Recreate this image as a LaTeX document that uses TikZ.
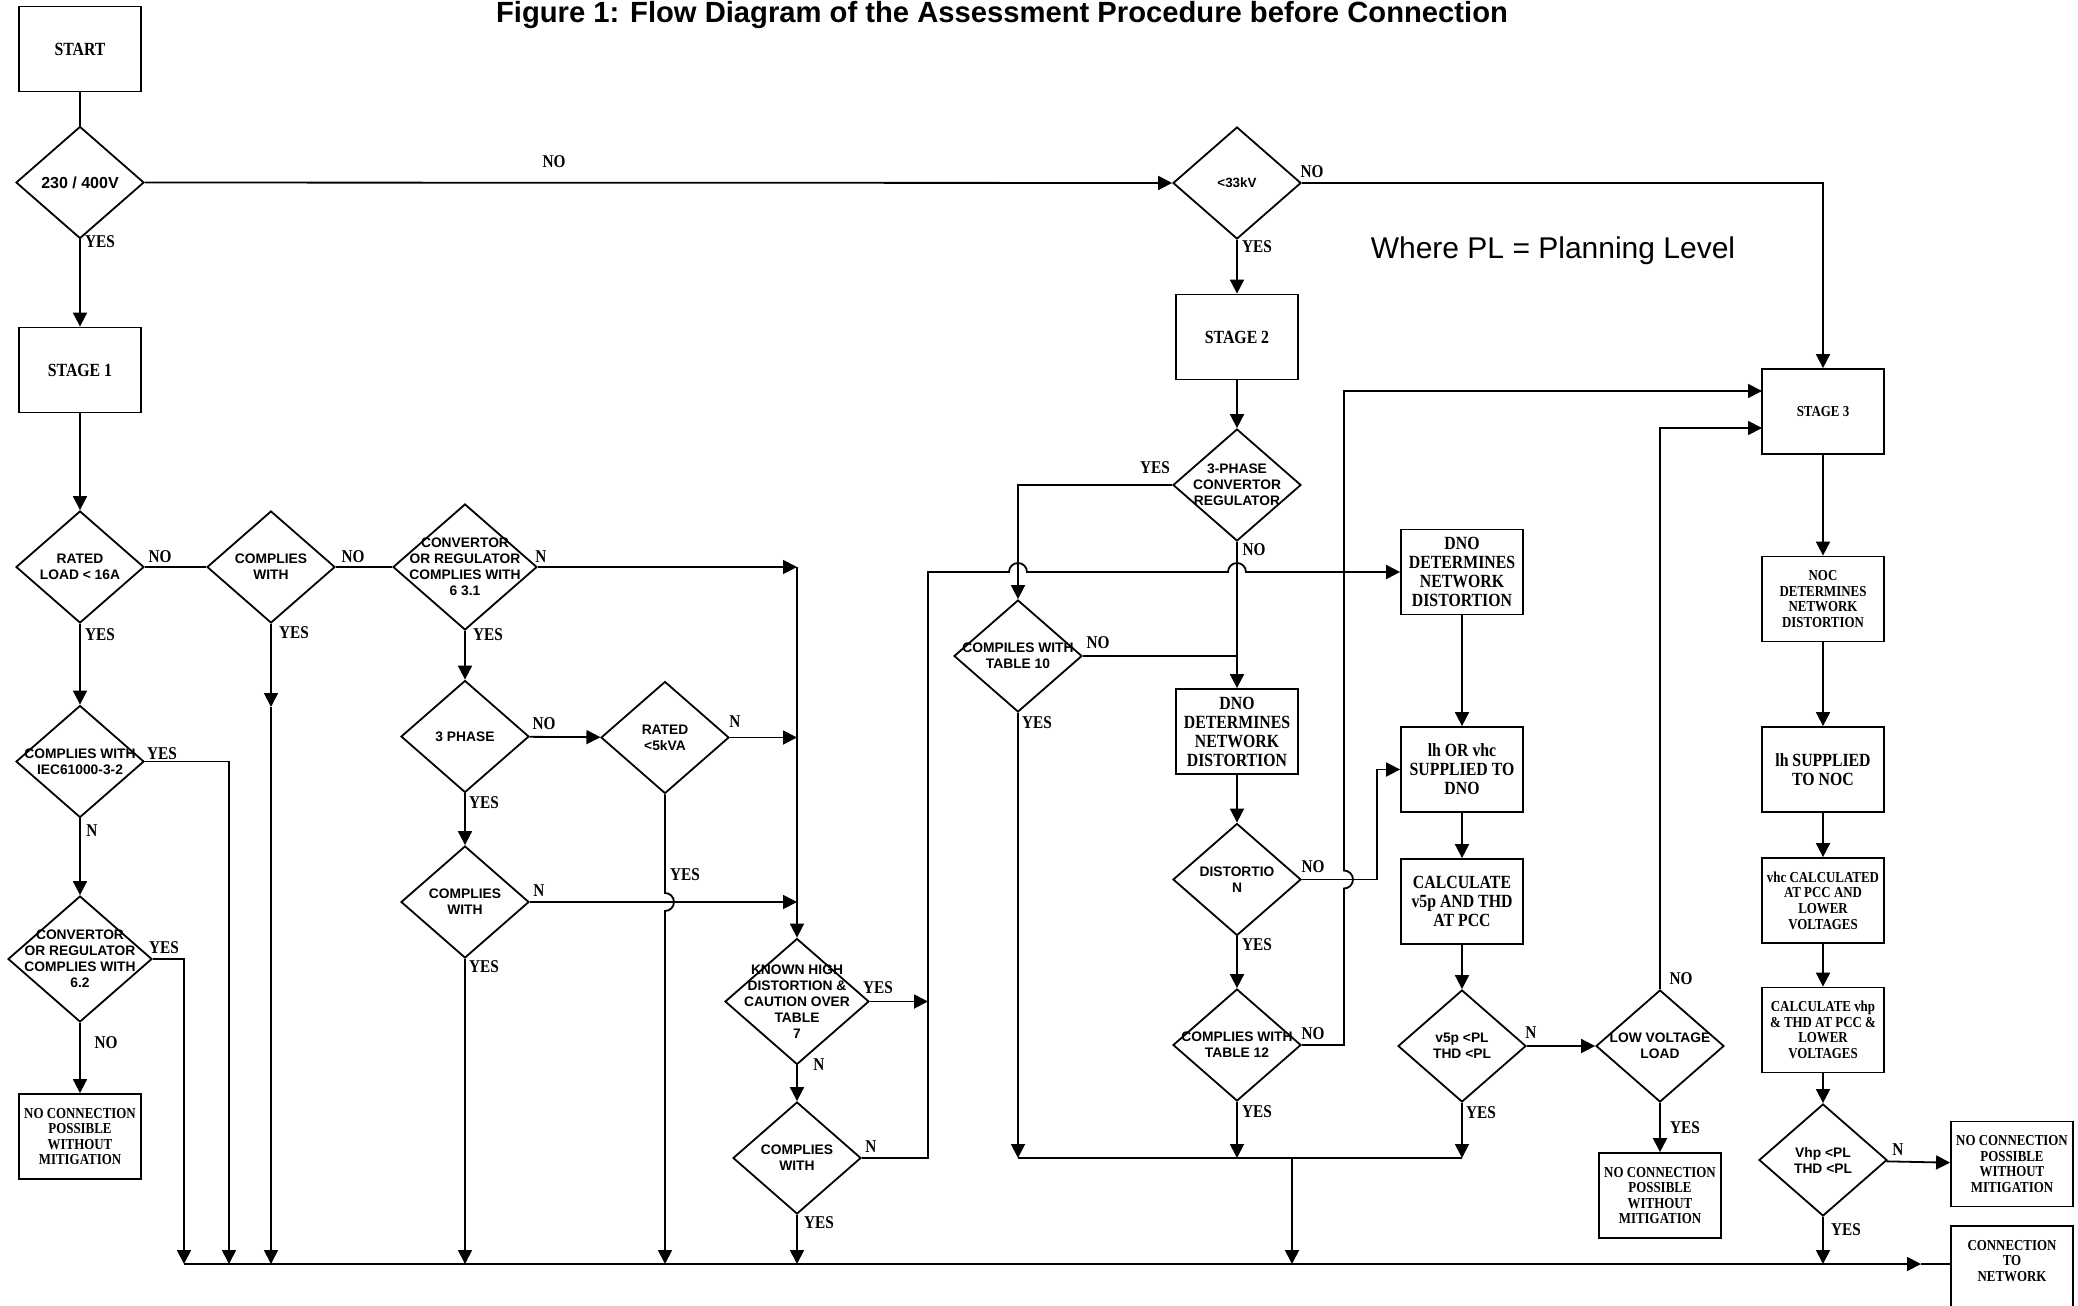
\documentclass[tikz,border=0pt]{standalone}
\usepackage{fontspec}
\setmainfont{Liberation Serif}
\newfontfamily\boxfont[FakeStretch=0.85]{Liberation Serif}
\newfontfamily\diafont{Liberation Sans}
\usetikzlibrary{shapes.geometric, arrows.meta}

\tikzset{
  box/.style={draw, rectangle, minimum width=61pt, minimum height=42.5pt, inner sep=1pt, align=center,
    font=\boxfont\bfseries\fontsize{9.3}{9.5}\selectfont},
  small box/.style={box, font=\boxfont\bfseries\fontsize{7.6}{7.8}\selectfont},
  dtext/.style={align=center, inner sep=0pt, font=\diafont\bfseries\fontsize{6.9}{8}\selectfont},
  decision/.style={draw, diamond, minimum width=64pt, minimum height=56pt, inner sep=0pt,
    label={[dtext]center:{#1}}},
  big decision/.style={decision={#1}, minimum width=72pt, minimum height=63pt},
  answer/.style={inner sep=0pt, font=\boxfont\bfseries\fontsize{9}{9}\selectfont},
  arr/.style={-{Triangle[length=7pt, width=7pt]}},
}

\begin{document}
\begin{tikzpicture}[x=0.5pt, y=-0.5pt, line width=0.9pt]
    \useasboundingbox (0,0) rectangle (2078,1306);

    \node [anchor=base, font=\diafont\bfseries\fontsize{14.6}{17}\selectfont] (title) at (1002,22)
        {Figure 1: Flow Diagram of the Assessment Procedure before Connection};
    \node [anchor=base, font=\diafont\fontsize{15}{18}\selectfont] (plnote) at (1553,258) {Where PL = Planning Level};

    \node [box] (start) at (80,49) {START};
    \node [decision={\fontsize{8}{9}\selectfont 230 / 400V}] (d230) at (80,182.5) {};
    \node [box] (stage1) at (80,370) {STAGE 1};
    \node [decision={\fontsize{6.7}{8}\selectfont <33kV}] (d33) at (1237,183) {};
    \node [box] (stage2) at (1237,337) {STAGE 2};
    \node [small box] (stage3) at (1823,411.5) {STAGE 3};

    \node [decision={RATED\\LOAD < 16A}] (rated16) at (80,567) {};
    \node [decision={COMPLIES\\WITH}] (comp1) at (271,567) {};
    \node [big decision={CONVERTOR\\OR REGULATOR\\COMPLIES WITH\\6 3.1}] (conv631) at (465,567) {};
    \node [decision={COMPLIES WITH\\IEC61000-3-2}] (iec) at (80,761.5) {};
    \node [big decision={CONVERTOR\\OR REGULATOR\\COMPLIES WITH\\6.2}] (conv62) at (80,959) {};
    \node [small box] (nocon1) at (80,1136.5) {NO CONNECTION\\POSSIBLE\\WITHOUT\\MITIGATION};
    \node [decision={3 PHASE}] (ph3) at (465,736.5) {};
    \node [decision={RATED\\<5kVA}] (rated5) at (665,737.5) {};
    \node [decision={COMPLIES\\WITH}] (comp2) at (465,902) {};
    \node [big decision={KNOWN HIGH\\DISTORTION \&\\CAUTION OVER\\TABLE\\7}] (known) at (797,1001.5) {};
    \node [decision={COMPLIES\\WITH}] (comp3) at (797,1158) {};

    \node [decision={3-PHASE\\CONVERTOR\\REGULATOR}] (ph3conv) at (1237,485) {};
    \node [decision={COMPILES WITH\\TABLE 10}] (tab10) at (1018,656) {};
    \node [box] (dno2) at (1237,731.5) {DNO\\DETERMINES\\NETWORK\\DISTORTION};
    \node [decision={DISTORTIO\\N}] (dist) at (1237,879.5) {};
    \node [decision={COMPLIES WITH\\TABLE 12}] (tab12) at (1237,1045) {};

    \node [box] (dno1) at (1462,572) {DNO\\DETERMINES\\NETWORK\\DISTORTION};
    \node [box] (lhvhc) at (1462,769.5) {lh OR vhc\\SUPPLIED TO\\DNO};
    \node [box] (calc) at (1462,901.5) {CALCULATE\\v5p AND THD\\AT PCC};
    \node [decision={v5p <PL\\THD <PL}] (v5p) at (1462,1046) {};
    \node [decision={LOW VOLTAGE\\LOAD}] (lvl) at (1660,1046) {};
    \node [small box] (nocon2) at (1660,1195.5) {NO CONNECTION\\POSSIBLE\\WITHOUT\\MITIGATION};

    \node [small box] (noc) at (1823,599) {NOC\\DETERMINES\\NETWORK\\DISTORTION};
    \node [box] (lhnoc) at (1823,769.5) {lh SUPPLIED\\TO NOC};
    \node [small box] (vhc) at (1823,900.5) {vhc CALCULATED\\AT PCC AND\\LOWER\\VOLTAGES};
    \node [small box] (calcvhp) at (1823,1030) {CALCULATE vhp\\\& THD AT PCC \&\\LOWER\\VOLTAGES};
    \node [decision={Vhp <PL\\THD <PL}] (vhp) at (1823,1160) {};
    \node [small box] (nocon3) at (2012,1164) {NO CONNECTION\\POSSIBLE\\WITHOUT\\MITIGATION};
    \node [small box, anchor=north] (conn) at (2012,1225) {CONNECTION\\TO\\NETWORK\\\mbox{}};

    \coordinate (cA) at (797,567);
    \coordinate (cB) at (928,572);
    \coordinate (mid1) at (271,707);
    \coordinate (s3a) at (1762,391);
    \coordinate (s3b) at (1762,428);
    \coordinate (bus1) at (184,1264);
    \coordinate (bus2) at (229,1264);
    \coordinate (bus3) at (271,1264);
    \coordinate (bus4) at (465,1264);
    \coordinate (bus5) at (665,1264);
    \coordinate (bus6) at (797,1264);
    \coordinate (bus7) at (1292,1264);
    \coordinate (bus8) at (1823,1264);
    \coordinate (busE) at (1921,1264);
    \coordinate (sub1) at (1018,1158);
    \coordinate (sub2) at (1237,1158);
    \coordinate (sub3) at (1462,1158);
    \coordinate (sub4) at (1292,1158);

    \draw (start) -- (d230);
    \draw [arr] (d230) -- (d33);
    \draw [arr] (d230) -- (stage1);
    \draw [arr] (d33) -- (stage2);
    \draw [arr] (d33.east) -| (stage3.north);

    \draw [arr] (stage1) -- (rated16);
    \draw (rated16) -- (comp1);
    \draw (comp1) -- (conv631);
    \draw [arr] (conv631) -- (cA);
    \draw [arr] (cA) -- (known);
    \draw [arr] (rated16) -- (iec);
    \draw [arr] (iec) -- (conv62);
    \draw [arr] (conv62) -- (nocon1);
    \draw [arr] (iec.east) -| (bus2);
    \draw [arr] (conv62.east) -| (bus1);
    \draw [arr] (comp1) -- (mid1);
    \draw [arr] (mid1) -- (bus3);

    \draw [arr] (conv631) -- (ph3);
    \draw [arr] (ph3) -- (rated5);
    \draw [arr] (rated5) -- (rated5 -| cA);
    \draw [arr] (ph3) -- (comp2);
    \draw [arr] (comp2) -- (comp2 -| cA);
    \draw [arr] (comp2) -- (bus4);
    \draw [arr] (rated5.south) -- (665,893) arc [start angle=90, end angle=-90, radius=4.5pt] -- (bus5);
    \draw [arr] (known) -- (known -| cB);
    \draw [arr] (known) -- (comp3);
    \draw [arr] (comp3) -- (bus6);
    \draw [arr] (comp3.east) -| (cB) -- (1009,572) arc [start angle=180, end angle=0, radius=4.5pt]
        -- (1228,572) arc [start angle=180, end angle=0, radius=4.5pt] -- (dno1);

    \draw [arr] (stage2) -- (ph3conv);
    \draw [arr] (ph3conv.west) -| (tab10.north);
    \draw [arr] (ph3conv) -- (dno2);
    \draw (tab10.east) -- (tab10 -| dno2);
    \draw [arr] (tab10) -- (sub1);
    \draw [arr] (dno2) -- (dist);
    \draw [arr] (dist) -- (tab12);
    \draw [arr] (tab12) -- (sub2);
    \draw [arr] (tab12.east) -- (1344,1045) -- (1344,888.5) arc [start angle=-90, end angle=90, radius=4.5pt]
        -- (1344,391) -- (s3a);
    \draw [arr] (dist.east) -- (1377,879.5) |- (lhvhc.west);

    \draw [arr] (dno1) -- (lhvhc);
    \draw [arr] (lhvhc) -- (calc);
    \draw [arr] (calc) -- (v5p);
    \draw [arr] (v5p) -- (lvl);
    \draw [arr] (v5p) -- (sub3);
    \draw [arr] (lvl) -- (nocon2);
    \draw [arr] (lvl.north) |- (s3b);
    \draw (sub1) -- (sub3);
    \draw [arr] (sub4) -- (bus7);

    \draw [arr] (stage3) -- (noc);
    \draw [arr] (noc) -- (lhnoc);
    \draw [arr] (lhnoc) -- (vhc);
    \draw [arr] (vhc) -- (calcvhp);
    \draw [arr] (calcvhp) -- (vhp);
    \draw [arr] (vhp) -- (nocon3);
    \draw [arr] (vhp) -- (bus8);

    \draw [arr] (bus1) -- (busE);
    \draw (busE) -- (conn.west |- busE);

    \node [answer] (n230) at (554,162) {NO};
    \node [answer] (y230) at (100,242) {YES};
    \node [answer] (n33) at (1312,172) {NO};
    \node [answer] (y33) at (1257,247) {YES};
    \node [answer] (n16) at (160,557) {NO};
    \node [answer] (nc1) at (353,557) {NO};
    \node [answer] (n631) at (541,557) {N};
    \node [answer] (y16) at (100,635) {YES};
    \node [answer] (yc1) at (294,633) {YES};
    \node [answer] (y631) at (488,635) {YES};
    \node [answer] (yiec) at (162,754) {YES};
    \node [answer] (niec) at (92,831) {N};
    \node [answer] (y62) at (164,948) {YES};
    \node [answer] (n62) at (106,1043) {NO};
    \node [answer] (nph3) at (544,724) {NO};
    \node [answer] (yph3) at (484,803) {YES};
    \node [answer] (n5) at (735,722) {N};
    \node [answer] (y5) at (685,875) {YES};
    \node [answer] (nc2) at (539,891) {N};
    \node [answer] (yc2) at (484,967) {YES};
    \node [answer] (yk) at (878,988) {YES};
    \node [answer] (nk) at (819,1065) {N};
    \node [answer] (nc3) at (871,1147) {N};
    \node [answer] (yc3) at (819,1223) {YES};
    \node [answer] (ypc) at (1155,468) {YES};
    \node [answer] (npc) at (1254,550) {NO};
    \node [answer] (n10) at (1098,643) {NO};
    \node [answer] (y10) at (1037,723) {YES};
    \node [answer] (nd) at (1313,867) {NO};
    \node [answer] (yd) at (1257,945) {YES};
    \node [answer] (n12) at (1313,1034) {NO};
    \node [answer] (y12) at (1257,1112) {YES};
    \node [answer] (n5p) at (1531,1033) {N};
    \node [answer] (y5p) at (1481,1113) {YES};
    \node [answer] (nlv) at (1681,979) {NO};
    \node [answer] (ylv) at (1685,1128) {YES};
    \node [answer] (nhp) at (1898,1150) {N};
    \node [answer] (yhp) at (1846,1230) {YES};
\end{tikzpicture}
\end{document}
